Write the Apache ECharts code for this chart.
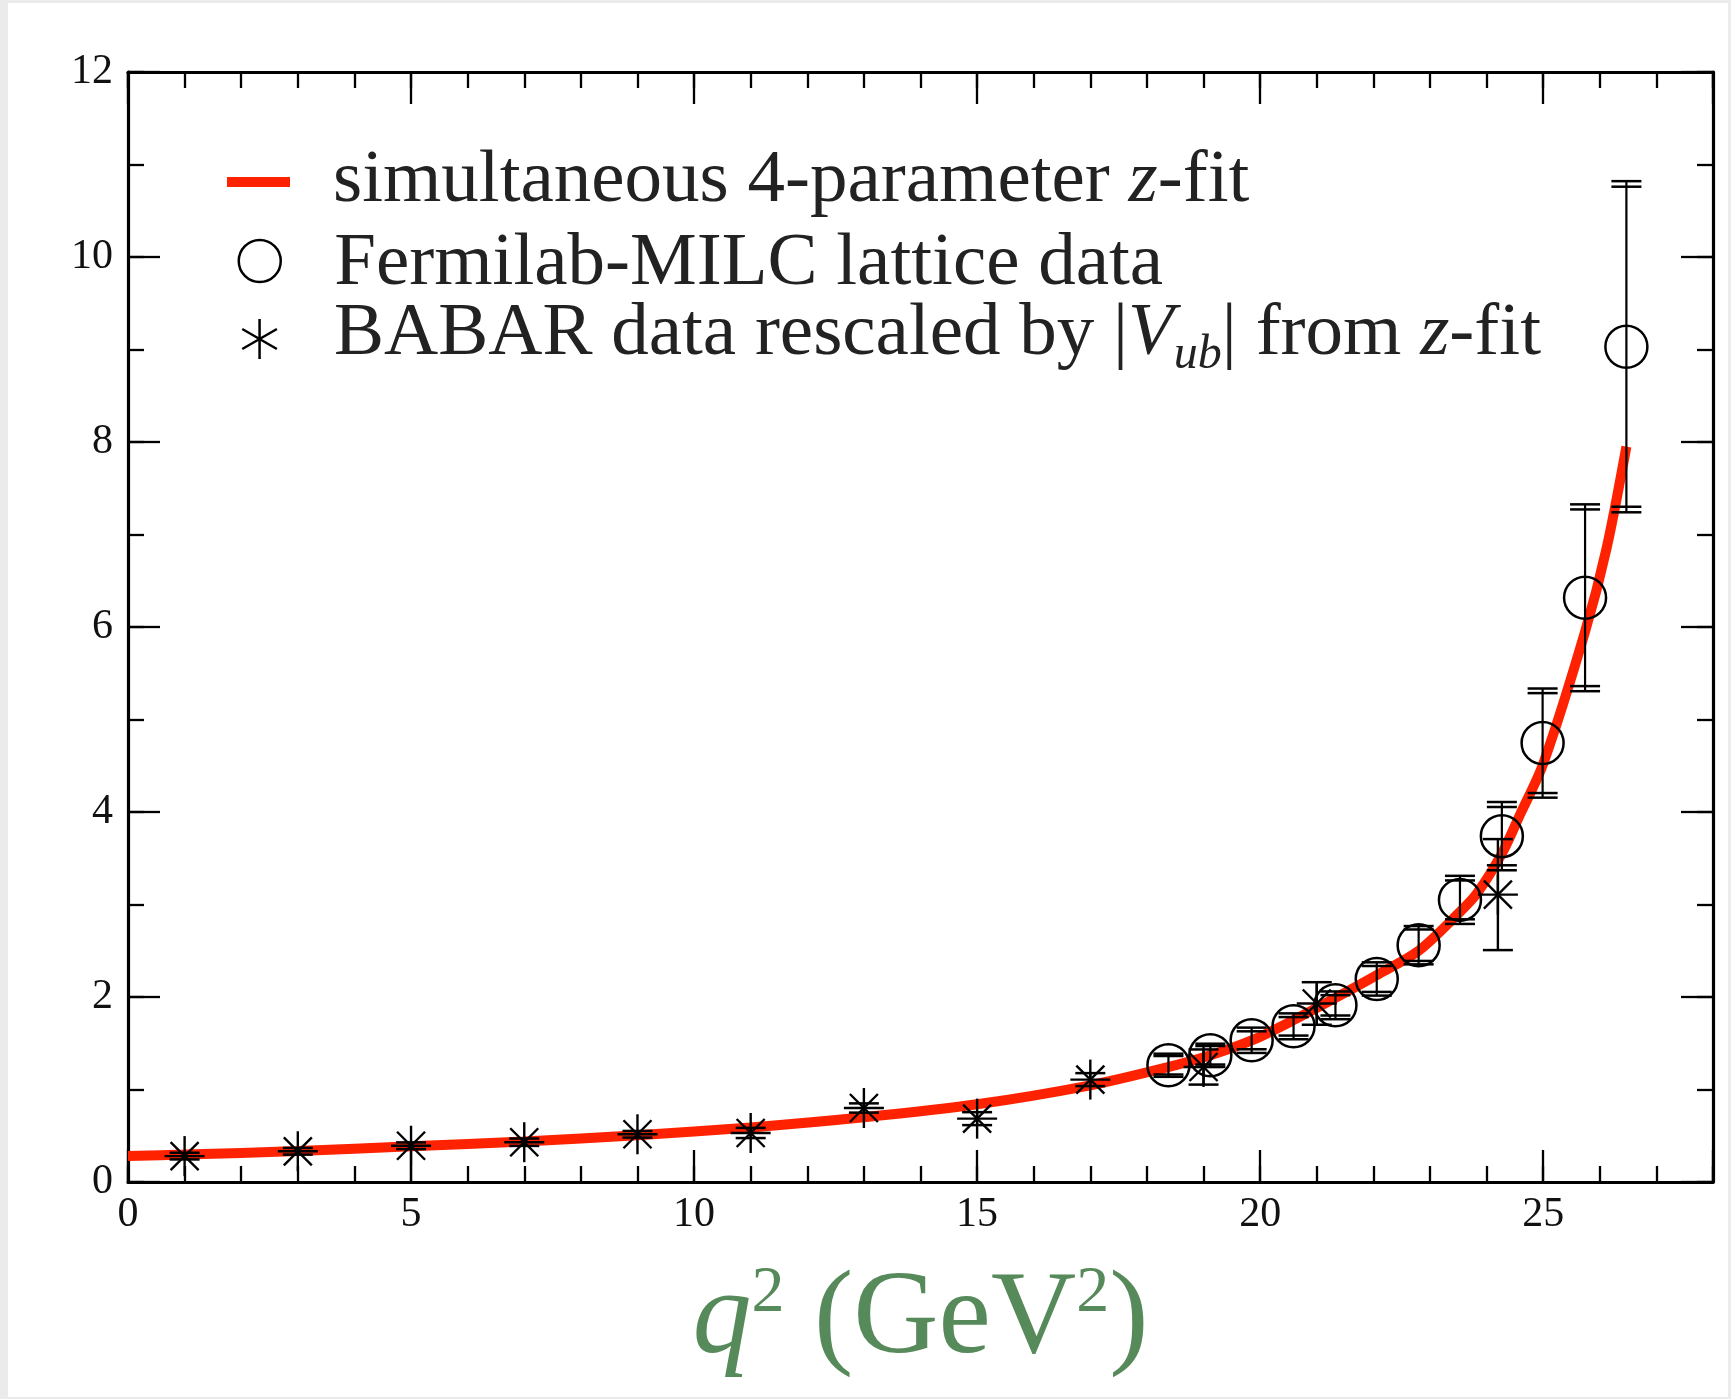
<!DOCTYPE html>
<html>
<head>
<meta charset="utf-8">
<title>f+(q²): z-fit, Fermilab-MILC lattice data and BABAR data</title>
<script src="https://cdn.jsdelivr.net/npm/echarts@6/dist/echarts.min.js"></script>
<style>
  html, body { margin: 0; padding: 0; background: #ebebeb; }
  #sheet { position: absolute; left: 8px; top: 3px; width: 1720px; height: 1394px; background: #ffffff; }
  #chart { position: absolute; left: 0; top: 0; width: 1731px; height: 1399px; }
</style>
</head>
<body>
<div id="sheet"></div>
<div id="chart"></div>
<script>
// ---- simultaneous 4-parameter z-fit (curve samples) ----
const fitQ2 = [0, 1, 3, 5, 7, 9, 11, 13, 15, 17, 18.3, 19.12, 19.85, 20.59, 21.33, 22.1, 22.8, 23.53, 23.83, 24.27, 24.59, 25.0, 25.74, 26.12, 26.47];
const fitF  = [0.281, 0.296, 0.335, 0.386, 0.437, 0.505, 0.59, 0.70, 0.84, 1.045, 1.23, 1.37, 1.53, 1.75, 1.99, 2.25, 2.50, 2.92, 3.12, 3.55, 3.97, 4.52, 5.95, 6.85, 7.95];

// ---- Fermilab-MILC lattice points: value, statistical and total errors ----
const latticeQ2  = [18.38, 19.12, 19.85, 20.59, 21.33, 22.06, 22.80, 23.53, 24.27, 24.99, 25.74, 26.47];
const latticeF   = [1.262, 1.37, 1.532, 1.683, 1.91, 2.195, 2.56, 3.05, 3.739, 4.745, 6.316, 9.03];
const latticeErr1 = [0.10, 0.10, 0.097, 0.10, 0.11, 0.14, 0.17, 0.21, 0.315, 0.54, 0.955, 1.73];
const latticeErr2 = [0.125, 0.125, 0.137, 0.14, 0.15, 0.18, 0.207, 0.26, 0.369, 0.59, 1.01, 1.79];

// ---- BABAR points rescaled by |Vub| ----
const babarQ2  = [1, 3, 5, 7, 9, 11, 13, 15, 17, 19, 21, 24.2];
const babarF   = [0.28, 0.332, 0.392, 0.43, 0.516, 0.53, 0.80, 0.685, 1.107, 1.243, 1.93, 3.107];
const babarErr = [0.036, 0.036, 0.036, 0.04, 0.036, 0.055, 0.05, 0.07, 0.07, 0.19, 0.23, 0.60];

// ---- axis ticks ----
const xLabelValues = [0, 5, 10, 15, 20, 25];
const yLabelValues = [0, 2, 4, 6, 8, 10, 12];

const FIT_NAME = 'simultaneous 4-parameter z-fit';
const LAT_NAME = 'Fermilab-MILC lattice data';
const BAB_NAME = 'BABAR data rescaled by |Vub| from z-fit';

const SERIF = '"Liberation Serif", "Times New Roman", serif';
const INK = '#000';
const TXT = '#222';
const RED = '#ff2200';
const GREEN = '#578a5a';

const X_MIN = 0, X_MAX = 28, Y_MIN = 0, Y_MAX = 12;

function capLine(cx, yy, hw) {
  return { type: 'line', shape: { x1: cx - hw, y1: yy, x2: cx + hw, y2: yy },
           style: { stroke: INK, lineWidth: 2.5 } };
}

// open circle with a double-capped error bar (stat / total)
function renderLattice(params, api) {
  const q = api.value(0), f = api.value(1), e1 = api.value(2), e2 = api.value(3);
  const c = api.coord([q, f]);
  const t1 = api.coord([q, f + e1])[1], b1 = api.coord([q, f - e1])[1];
  const t2 = api.coord([q, f + e2])[1], b2 = api.coord([q, f - e2])[1];
  return {
    type: 'group',
    children: [
      { type: 'line', shape: { x1: c[0], y1: t2, x2: c[0], y2: b2 }, style: { stroke: INK, lineWidth: 2.2 } },
      capLine(c[0], t1, 15), capLine(c[0], b1, 15),
      capLine(c[0], t2, 15), capLine(c[0], b2, 15),
      { type: 'circle', shape: { cx: c[0], cy: c[1], r: 21 },
        style: { fill: 'none', stroke: INK, lineWidth: 2.5 } }
    ]
  };
}

// eight-armed star with a single-capped error bar
function renderBabar(params, api) {
  const q = api.value(0), f = api.value(1), e = api.value(2);
  const c = api.coord([q, f]);
  const t = api.coord([q, f + e])[1], b = api.coord([q, f - e])[1];
  const r = 20, d = 14;
  const arm = (x1, y1, x2, y2) => ({ type: 'line', shape: { x1, y1, x2, y2 }, style: { stroke: INK, lineWidth: 2.4 } });
  return {
    type: 'group',
    children: [
      arm(c[0], t, c[0], b),
      capLine(c[0], t, 15), capLine(c[0], b, 15),
      arm(c[0] - r, c[1], c[0] + r, c[1]),
      arm(c[0], c[1] - r, c[0], c[1] + r),
      arm(c[0] - d, c[1] - d, c[0] + d, c[1] + d),
      arm(c[0] - d, c[1] + d, c[0] + d, c[1] - d)
    ]
  };
}

const tickFont = { fontFamily: SERIF, fontSize: 42, color: '#111', lineHeight: 42 };

function xAxisDef(pos, step, len, major) {
  return {
    type: 'value', gridIndex: 0, position: pos, min: X_MIN, max: X_MAX, interval: step,
    axisLine: { show: major, onZero: false, lineStyle: { color: INK, width: 3.2 } },
    axisTick: { show: true, inside: true, length: len, lineStyle: { color: INK, width: 2.3 } },
    axisLabel: { show: false },
    splitLine: { show: false }
  };
}
function yAxisDef(pos, step, len, major) {
  return {
    type: 'value', gridIndex: 0, position: pos, min: Y_MIN, max: Y_MAX, interval: step,
    axisLine: { show: major, onZero: false, lineStyle: { color: INK, width: 3.2 } },
    axisTick: { show: true, inside: true, length: len, lineStyle: { color: INK, width: 2.3 } },
    axisLabel: { show: false },
    splitLine: { show: false }
  };
}

const xBottom = xAxisDef('bottom', 5, 32, true);
xBottom.axisLabel = Object.assign({ show: true, margin: 12,
  formatter: v => (xLabelValues.indexOf(v) >= 0 ? String(v) : '') }, tickFont);
xBottom.name = '{q|q}{sup|2} (GeV{sup|2})';
xBottom.nameLocation = 'middle';
xBottom.nameGap = 79;
xBottom.nameTextStyle = {
  fontFamily: SERIF, fontSize: 118, color: GREEN, lineHeight: 120,
  rich: {
    q:   { fontFamily: SERIF, fontSize: 118, fontStyle: 'italic', color: GREEN, lineHeight: 120 },
    sup: { fontFamily: SERIF, fontSize: 66, color: GREEN, verticalAlign: 'top', lineHeight: 82 }
  }
};

const yLeft = yAxisDef('left', 2, 32, true);
yLeft.axisLabel = Object.assign({ show: true, margin: 15,
  formatter: v => (yLabelValues.indexOf(v) >= 0 ? String(v) : '') }, tickFont);

const legendText = (extra) => Object.assign({
  fontFamily: SERIF, fontSize: 75, color: TXT, lineHeight: 90,
  rich: {
    i:   { fontFamily: SERIF, fontSize: 75, fontStyle: 'italic', color: TXT, lineHeight: 90 },
    sub: { fontFamily: SERIF, fontSize: 48, fontStyle: 'italic', color: TXT, lineHeight: 56, verticalAlign: 'bottom' }
  }
}, extra);

const option = {
  animation: false,
  backgroundColor: 'transparent',
  grid: { left: 128, right: 18, top: 72, bottom: 217, containLabel: false },
  xAxis: [
    xBottom,
    xAxisDef('bottom', 1, 16, false),
    xAxisDef('top', 5, 32, true),
    xAxisDef('top', 1, 16, false)
  ],
  yAxis: [
    yLeft,
    yAxisDef('left', 1, 16, false),
    yAxisDef('right', 2, 32, true),
    yAxisDef('right', 1, 16, false)
  ],
  legend: [
    {
      left: 227, top: 136, padding: 0, orient: 'vertical', selectedMode: false,
      itemWidth: 63, itemHeight: 10,
      data: [{ name: FIT_NAME, icon: 'rect', itemStyle: { color: RED, borderWidth: 0 } }],
      formatter: () => 'simultaneous 4-parameter {i|z}-fit',
      textStyle: legendText({ padding: [0, 0, 2, 38] })
    },
    {
      left: 237.5, top: 213, padding: 0, orient: 'vertical', selectedMode: false,
      itemWidth: 63, itemHeight: 42,
      data: [{ name: LAT_NAME, icon: 'circle',
               itemStyle: { color: 'rgba(0,0,0,0)', borderColor: INK, borderWidth: 2.5 } }],
      formatter: () => 'Fermilab-MILC lattice data',
      textStyle: legendText({ padding: [6, 0, 0, 38] })
    },
    {
      left: 241, top: 289, padding: 0, orient: 'vertical', selectedMode: false,
      itemWidth: 63, itemHeight: 40,
      data: [{ name: BAB_NAME,
               icon: 'path://M17.32,0 L17.32,40 M0,10 L34.64,30 M34.64,10 L0,30',
               itemStyle: { color: 'rgba(0,0,0,0)', borderColor: INK, borderWidth: 2.5 } }],
      formatter: () => 'BABAR data rescaled by |{i|V}{sub|ub}| from {i|z}-fit',
      textStyle: legendText({ padding: [0, 0, 10, 38] })
    }
  ],
  series: [
    {
      name: FIT_NAME, type: 'line', xAxisIndex: 0, yAxisIndex: 0,
      data: fitQ2.map((q, i) => [q, fitF[i]]),
      symbol: 'none', smooth: 0.3,
      lineStyle: { color: RED, width: 10, cap: 'butt' },
      itemStyle: { color: RED },
      silent: true, z: 2
    },
    {
      name: LAT_NAME, type: 'custom', xAxisIndex: 0, yAxisIndex: 0,
      data: latticeQ2.map((q, i) => [q, latticeF[i], latticeErr1[i], latticeErr2[i]]),
      encode: { x: 0, y: 1 },
      renderItem: renderLattice, silent: true, z: 3, clip: false
    },
    {
      name: BAB_NAME, type: 'custom', xAxisIndex: 0, yAxisIndex: 0,
      data: babarQ2.map((q, i) => [q, babarF[i], babarErr[i]]),
      encode: { x: 0, y: 1 },
      renderItem: renderBabar, silent: true, z: 3, clip: false
    }
  ]
};

const chart = echarts.init(document.getElementById('chart'), null, { renderer: 'canvas' });
chart.setOption(option);
</script>
</body>
</html>
